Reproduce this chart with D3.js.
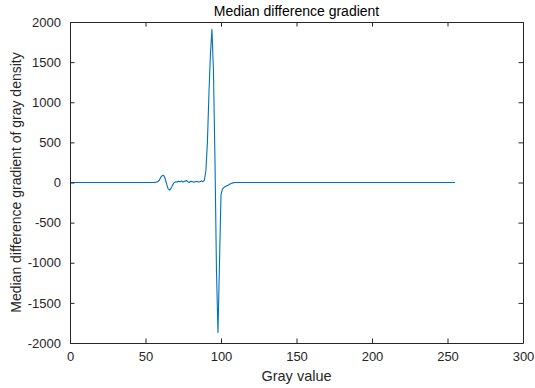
<!DOCTYPE html>
<html>
<head>
<meta charset="utf-8">
<script src="https://cdn.jsdelivr.net/npm/d3@7"></script>
<style>
  body { margin: 0; background: #fff; }
  text { font-family: Arial, "Liberation Sans", sans-serif; fill: #262626; }
</style>
</head>
<body>
<svg id="chart" width="535" height="388"></svg>
<script>
// Data: gray value (0..255) and median difference gradient (non-zero portion)
const grayValues = d3.range(0, 256);
const nonZeroStart = 56;
const nonZeroValues = [
  2, 5, 10, 25, 60, 85, 90, 50, -20, -80,      // 56-65
  -95, -70, -30, 0, 10, 5, 15, 10, 20, 5,     // 66-75
  15, 25, 10, 0, 15, 10, 5, 10, 15, 5,        // 76-85
  10, 20, 10, 30, 150, 500, 1100, 1600, 1910, 1400, // 86-95
  300, -1100, -1870, -1000, -150, -80, -60, -50, -40, -30, // 96-105
  -20, -10, -5, 0                              // 106-109
];
const gradient = grayValues.map(g => {
  const i = g - nonZeroStart;
  return (i >= 0 && i < nonZeroValues.length) ? nonZeroValues[i] : 0;
});
const xTicks = [0, 50, 100, 150, 200, 250, 300];
const yTicks = [-2000, -1500, -1000, -500, 0, 500, 1000, 1500, 2000];

const title = "Median difference gradient";
const xLabel = "Gray value";
const yLabel = "Median difference gradient of gray density";

const svg = d3.select("#chart");
const m = { left: 70, right: 535 - 523, top: 22, bottom: 388 - 343 };
const W = 535, H = 388;
const x = d3.scaleLinear().domain([0, 300]).range([m.left, W - m.right]);
const y = d3.scaleLinear().domain([-2000, 2000]).range([H - m.bottom, m.top]);

const tickLen = 4.5;
const fmt = d => String(d);
const xAxis = d3.axisBottom(x).tickValues(xTicks).tickSizeInner(-tickLen).tickSizeOuter(0).tickPadding(9).tickFormat(fmt);
const yAxis = d3.axisLeft(y).tickValues(yTicks).tickSizeInner(-tickLen).tickSizeOuter(0).tickPadding(9).tickFormat(fmt);
const xTop = d3.axisTop(x).tickValues(xTicks).tickSizeInner(-tickLen).tickSizeOuter(0).tickFormat("");
const yRight = d3.axisRight(y).tickValues(yTicks).tickSizeInner(-tickLen).tickSizeOuter(0).tickFormat("");

function style(g) {
  g.select(".domain").attr("stroke", "#262626").attr("stroke-width", 1);
  g.selectAll(".tick line").attr("stroke", "#262626").attr("stroke-width", 1);
  g.selectAll(".tick text").attr("font-size", 13).attr("fill", "#262626")
    .attr("font-family", "Arial, 'Liberation Sans', sans-serif");
}

// line
const line = d3.line().x((d, i) => x(grayValues[i])).y(d => y(d));
svg.append("path").datum(gradient)
  .attr("fill", "none").attr("stroke", "#0072BD").attr("stroke-width", 1.1)
  .attr("stroke-linejoin", "round")
  .attr("d", line);

svg.append("g").attr("transform", `translate(0,${H - m.bottom})`).call(xAxis).call(style);
svg.append("g").attr("transform", `translate(${m.left},0)`).call(yAxis).call(style);
svg.append("g").attr("transform", `translate(0,${m.top})`).call(xTop).call(style);
svg.append("g").attr("transform", `translate(${W - m.right},0)`).call(yRight).call(style);

// title and labels
svg.append("text").attr("x", (m.left + W - m.right) / 2).attr("y", 16)
  .attr("text-anchor", "middle").attr("font-size", 14).style("fill", "#000").text(title);
svg.append("text").attr("x", (m.left + W - m.right) / 2).attr("y", 381)
  .attr("text-anchor", "middle").attr("font-size", 14.5).text(xLabel);
svg.append("text").attr("transform", `translate(21,${(m.top + H - m.bottom) / 2}) rotate(-90)`)
  .attr("text-anchor", "middle").attr("font-size", 14).text(yLabel);
</script>
</body>
</html>
